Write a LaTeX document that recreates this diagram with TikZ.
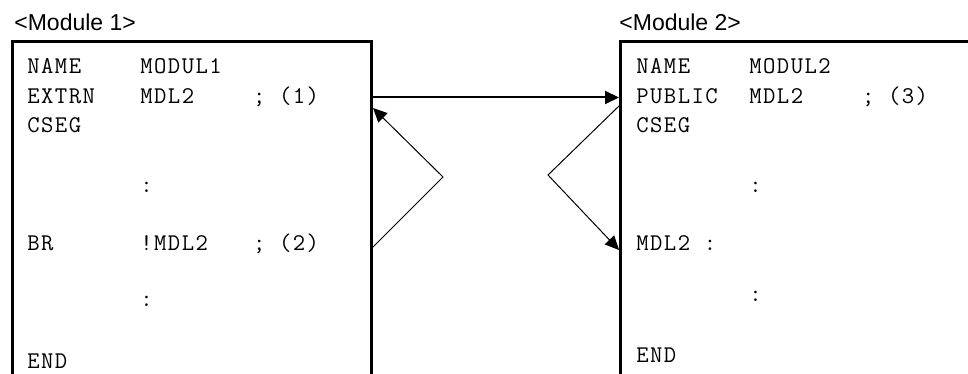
\documentclass[tikz,border=0pt]{standalone}
\usepackage{fontspec}
\setmainfont{Liberation Sans}
\setmonofont{Latin Modern Mono}[LetterSpace=6]
\usetikzlibrary{arrows.meta}
\tikzset{
  code/.style={anchor=base west, inner sep=0pt, font=\ttfamily\fontsize{12}{14}\selectfont},
  title/.style={anchor=base west, inner sep=0pt, font=\fontsize{11.5}{14}\selectfont},
  frame/.style={line width=1.5pt},
  link/.style={line width=0.5pt, -{Triangle[length=7pt,width=6.5pt]}},
}
\begin{document}
\begin{tikzpicture}[x=0.5pt, y=-0.5pt] % 1単位 = 画像の1ピクセル
  \useasboundingbox (0,0) rectangle (968,374); % 画像の大きさ
  % モジュール1
  \node[title] (title1) at (14,30.5) {<Module 1>};
  \draw[frame] (12,380)--(12,42)--(371,42)--(371,380); % 枠、下は開いている
  \node[code] (name1) at (27,74) {NAME};
  \node[code] (modul1) at (140,74) {MODUL1};
  \node[code] (extrn) at (27,103.5) {EXTRN};
  \node[code] (mdl1) at (140,103.5) {MDL2};
  \node[code] (note1) at (252.6,103.5) {; (1)};
  \node[code] (cseg1) at (27,133) {CSEG};
  \node[code] (dots1a) at (140,192) {:};
  \node[code] (br) at (27,250.5) {BR};
  \node[code] (call) at (140,250.5) {!MDL2};
  \node[code] (note2) at (252.6,250.5) {; (2)};
  \node[code] (dots1b) at (140,306) {:};
  \node[code] (end1) at (27,368) {END};
  % モジュール2
  \node[title] (title2) at (619,30.5) {<Module 2>};
  \draw[frame] (620,380)--(620,42)--(975,42); % 枠、右と下は開いている
  \node[code] (name2) at (636,74) {NAME};
  \node[code] (modul2) at (749,74) {MODUL2};
  \node[code] (public) at (636,103.5) {PUBLIC};
  \node[code] (mdl2) at (749,103.5) {MDL2};
  \node[code] (note3) at (861.6,103.5) {; (3)};
  \node[code] (cseg2) at (636,133) {CSEG};
  \node[code] (dots2a) at (749,192) {:};
  \node[code] (label) at (636,250.5) {MDL2 :};
  \node[code] (dots2b) at (749,301) {:};
  \node[code] (end2) at (636,362) {END};
  % 矢印の端点
  \coordinate (out1) at (372,97.5);
  \coordinate (in1) at (619,97.5);
  \coordinate (out2) at (372,248);
  \coordinate (turn1) at (443,177);
  \coordinate (in2) at (373,108);
  \coordinate (out3) at (619,106);
  \coordinate (turn2) at (548,175);
  \coordinate (in3) at (619,250);
  \draw[link, line width=1pt] (out1)--(in1); % 参照
  \draw[link] (out2)--(turn1)--(in2);
  \draw[link] (out3)--(turn2)--(in3);
\end{tikzpicture}
\end{document}
